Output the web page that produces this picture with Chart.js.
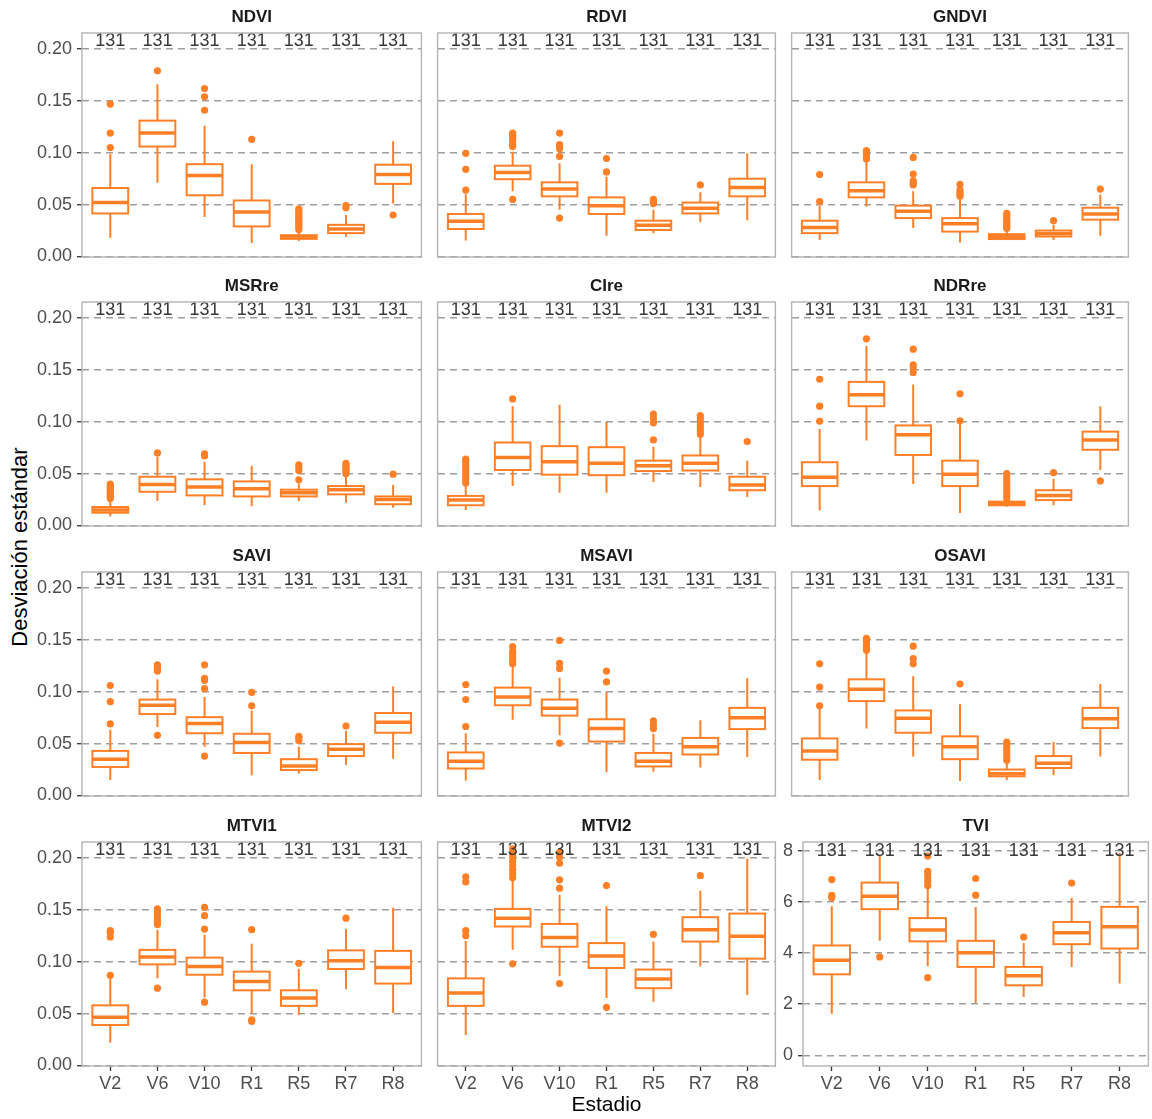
<!DOCTYPE html>
<html>
<head>
<meta charset="utf-8">
<title>Desviación estándar por estadio</title>
<script src="https://cdn.jsdelivr.net/npm/chart.js@4.4.0/dist/chart.umd.min.js"></script>
<style>
  html, body { margin: 0; padding: 0; background: #fff; overflow: hidden; }
  #page { position: relative; width: 1152px; height: 1119px; }
  #page canvas { position: absolute; }
  #ytitle {
    position: absolute; left: 20px; top: 547px;
    transform: translate(-50%, -50%) rotate(-90deg);
    font: 22px "Liberation Sans", Arial, sans-serif; color: #000; white-space: nowrap;
  }
</style>
</head>
<body>
<div id="page">
  <div id="ytitle">Desviación estándar</div>
</div>
<script>
// categories and tick labels
const stages = ['V2', 'V6', 'V10', 'R1', 'R5', 'R7', 'R8'];
const counts = [131, 131, 131, 131, 131, 131, 131];
const sdTicks = [0, 0.05, 0.10, 0.15, 0.20];
const tviTicks = [0, 2, 4, 6, 8];

// each box: [lower whisker, Q1, median, Q3, upper whisker]
const ndviBox = [[0.018, 0.0415, 0.052, 0.066, 0.099], [0.071, 0.106, 0.119, 0.131, 0.166], [0.038, 0.059, 0.078, 0.089, 0.126], [0.013, 0.029, 0.043, 0.054, 0.089], [0.015, 0.017, 0.0185, 0.0205, 0.025], [0.019, 0.0225, 0.0265, 0.0305, 0.040], [0.051, 0.070, 0.079, 0.0885, 0.111]];
const ndviOut = [[0.105, 0.119, 0.147], [0.179], [0.141, 0.154, 0.162], [0.113], [0.026, 0.028, 0.030, 0.032, 0.034, 0.036, 0.038, 0.040, 0.042, 0.044, 0.046], [0.047, 0.049], [0.040]];

const rdviBox = [[0.0155, 0.0265, 0.034, 0.041, 0.060], [0.063, 0.0745, 0.081, 0.0875, 0.101], [0.045, 0.058, 0.065, 0.0715, 0.090], [0.020, 0.041, 0.049, 0.057, 0.077], [0.0225, 0.0255, 0.030, 0.0345, 0.045], [0.033, 0.0415, 0.0465, 0.052, 0.062], [0.035, 0.058, 0.0665, 0.075, 0.0995]];
const rdviOut = [[0.064, 0.084, 0.0995], [0.055, 0.106, 0.108, 0.111, 0.113, 0.115, 0.117, 0.119], [0.037, 0.0965, 0.104, 0.106, 0.108, 0.119], [0.0815, 0.0945], [0.051, 0.052, 0.0535, 0.055], [0.069], []];

const gndviBox = [[0.016, 0.0225, 0.028, 0.0345, 0.049], [0.048, 0.057, 0.0635, 0.0715, 0.0915], [0.0275, 0.037, 0.0435, 0.049, 0.063], [0.0135, 0.024, 0.0315, 0.037, 0.0555], [0.016, 0.0168, 0.019, 0.0215, 0.0255], [0.016, 0.0193, 0.022, 0.025, 0.0305], [0.020, 0.0355, 0.041, 0.047, 0.0595]];
const gndviOut = [[0.053, 0.079], [0.094, 0.096, 0.098, 0.100, 0.102], [0.069, 0.071, 0.073, 0.0795, 0.0955], [0.058, 0.060, 0.062, 0.064, 0.0695], [0.027, 0.029, 0.031, 0.033, 0.035, 0.037, 0.040, 0.0415], [0.0345], [0.065]];

const msrreBox = [[0.0087, 0.0123, 0.015, 0.0178, 0.024], [0.0235, 0.0325, 0.0395, 0.047, 0.066], [0.0195, 0.029, 0.037, 0.0445, 0.0615], [0.0185, 0.028, 0.0355, 0.0425, 0.0575], [0.0235, 0.028, 0.0315, 0.0345, 0.0405], [0.022, 0.030, 0.0345, 0.038, 0.047], [0.017, 0.0205, 0.025, 0.028, 0.039]];
const msrreOut = [[0.026, 0.028, 0.030, 0.032, 0.034, 0.036, 0.038, 0.040], [0.070], [0.067, 0.069], [], [0.044, 0.053, 0.0565, 0.0585], [0.050, 0.052, 0.054, 0.056, 0.058, 0.060], [0.0495]];

const cireBox = [[0.015, 0.0195, 0.0245, 0.0285, 0.039], [0.038, 0.0535, 0.0655, 0.080, 0.115], [0.0315, 0.049, 0.0615, 0.0765, 0.1165], [0.0315, 0.0485, 0.060, 0.0755, 0.100], [0.042, 0.0525, 0.0575, 0.0625, 0.076], [0.037, 0.053, 0.060, 0.0675, 0.0855], [0.0275, 0.034, 0.039, 0.047, 0.0625]];
const cireOut = [[0.041, 0.044, 0.047, 0.050, 0.053, 0.056, 0.059, 0.062, 0.064], [0.122], [], [], [0.0825, 0.099, 0.1035, 0.1075], [0.088, 0.091, 0.094, 0.097, 0.100, 0.103, 0.106], [0.081]];

const ndrreBox = [[0.0145, 0.038, 0.0465, 0.061, 0.093], [0.082, 0.115, 0.126, 0.1385, 0.173], [0.040, 0.068, 0.0875, 0.0965, 0.136], [0.012, 0.038, 0.0495, 0.0625, 0.0985], [0.018, 0.0195, 0.021, 0.023, 0.0245], [0.0195, 0.0245, 0.029, 0.034, 0.045], [0.0535, 0.073, 0.0825, 0.0905, 0.115]];
const ndrreOut = [[0.1005, 0.115, 0.141], [0.180], [0.1475, 0.152, 0.155, 0.170], [0.101, 0.127], [0.026, 0.029, 0.032, 0.035, 0.038, 0.041, 0.044, 0.047, 0.050], [0.051], [0.043]];

const saviBox = [[0.015, 0.0275, 0.035, 0.043, 0.0635], [0.066, 0.0785, 0.087, 0.0925, 0.112], [0.047, 0.060, 0.0695, 0.0755, 0.095], [0.0195, 0.041, 0.051, 0.0595, 0.082], [0.021, 0.0245, 0.0285, 0.035, 0.047], [0.0295, 0.038, 0.0445, 0.0495, 0.0625], [0.0355, 0.0605, 0.0705, 0.0795, 0.105]];
const saviOut = [[0.069, 0.0905, 0.106], [0.058, 0.120, 0.122, 0.124, 0.126], [0.038, 0.103, 0.111, 0.113, 0.126], [0.0865, 0.0995], [0.053, 0.0555, 0.057], [0.067], []];

const msaviBox = [[0.0145, 0.026, 0.033, 0.0415, 0.060], [0.073, 0.087, 0.095, 0.104, 0.124], [0.058, 0.077, 0.084, 0.0925, 0.1135], [0.0225, 0.052, 0.0645, 0.0735, 0.100], [0.023, 0.028, 0.033, 0.041, 0.0595], [0.027, 0.0395, 0.047, 0.0555, 0.0725], [0.037, 0.064, 0.075, 0.0845, 0.113]];
const msaviOut = [[0.0665, 0.0925, 0.107], [0.127, 0.130, 0.133, 0.136, 0.139, 0.1435], [0.0505, 0.1225, 0.1275, 0.1495], [0.1095, 0.120], [0.0645, 0.068, 0.072], [], []];

const osaviBox = [[0.015, 0.0345, 0.043, 0.055, 0.084], [0.0645, 0.091, 0.1025, 0.112, 0.1385], [0.0375, 0.0605, 0.0745, 0.082, 0.115], [0.014, 0.035, 0.047, 0.057, 0.088], [0.015, 0.0185, 0.021, 0.025, 0.032], [0.0195, 0.0265, 0.031, 0.038, 0.0515], [0.0375, 0.065, 0.074, 0.0845, 0.1075]];
const osaviOut = [[0.0865, 0.1045, 0.127], [0.140, 0.143, 0.146, 0.149, 0.1515], [0.127, 0.132, 0.144], [0.1075], [0.034, 0.037, 0.040, 0.043, 0.046, 0.049, 0.0515], [], []];

const mtvi1Box = [[0.022, 0.039, 0.0465, 0.058, 0.086], [0.084, 0.0975, 0.1045, 0.1115, 0.131], [0.0655, 0.0875, 0.0955, 0.104, 0.126], [0.050, 0.0725, 0.081, 0.0905, 0.1175], [0.049, 0.0575, 0.065, 0.0725, 0.093], [0.0735, 0.093, 0.101, 0.111, 0.1315], [0.0505, 0.079, 0.0945, 0.1105, 0.152]];
const mtvi1Out = [[0.087, 0.124, 0.128, 0.130], [0.0745, 0.136, 0.139, 0.142, 0.145, 0.148, 0.151], [0.061, 0.1315, 0.1445, 0.1525], [0.0425, 0.044, 0.131], [0.0985], [0.142], []];

const mtvi2Box = [[0.0295, 0.0575, 0.070, 0.084, 0.120], [0.1115, 0.134, 0.142, 0.151, 0.179], [0.086, 0.1145, 0.1235, 0.1365, 0.1645], [0.065, 0.094, 0.1055, 0.118, 0.1535], [0.0615, 0.0745, 0.0835, 0.0925, 0.1195], [0.0955, 0.1195, 0.131, 0.143, 0.1685], [0.068, 0.103, 0.1245, 0.1465, 0.1995]];
const mtvi2Out = [[0.125, 0.130, 0.177, 0.182], [0.098, 0.181, 0.185, 0.189, 0.193, 0.197, 0.201, 0.205, 0.209], [0.079, 0.171, 0.179, 0.195, 0.201, 0.2055], [0.056, 0.1735], [0.1265], [0.183], []];

const tviBox = [[1.63, 3.17, 3.72, 4.30, 5.83], [4.48, 5.72, 6.23, 6.76, 7.80], [3.49, 4.46, 4.90, 5.37, 6.53], [2.05, 3.46, 4.01, 4.48, 5.81], [2.28, 2.74, 3.11, 3.46, 4.40], [3.46, 4.35, 4.80, 5.22, 6.17], [2.81, 4.18, 5.03, 5.81, 7.92]];
const tviOut = [[6.17, 6.26, 6.88], [3.85], [3.04, 6.65, 6.8, 6.95, 7.1, 7.2, 7.8], [6.27, 6.92], [4.63], [6.74], []];

const ORANGE = '#ff7f27';
Chart.defaults.font.family = "'Liberation Sans', Arial, sans-serif";

// plot area edges in the page
const colLeft = [82, 434, 788];
const colRight = [423, 777, 1130];
const rowTop = [33, 302, 572, 842];
const rowBottom = [257, 526, 796, 1066];

const panels = [
    {name: 'NDVI', box: ndviBox, out: ndviOut, row: 0, col: 0},
    {name: 'RDVI', box: rdviBox, out: rdviOut, row: 0, col: 1},
    {name: 'GNDVI', box: gndviBox, out: gndviOut, row: 0, col: 2},
    {name: 'MSRre', box: msrreBox, out: msrreOut, row: 1, col: 0},
    {name: 'CIre', box: cireBox, out: cireOut, row: 1, col: 1},
    {name: 'NDRre', box: ndrreBox, out: ndrreOut, row: 1, col: 2},
    {name: 'SAVI', box: saviBox, out: saviOut, row: 2, col: 0},
    {name: 'MSAVI', box: msaviBox, out: msaviOut, row: 2, col: 1},
    {name: 'OSAVI', box: osaviBox, out: osaviOut, row: 2, col: 2},
    {name: 'MTVI1', box: mtvi1Box, out: mtvi1Out, row: 3, col: 0},
    {name: 'MTVI2', box: mtvi2Box, out: mtvi2Out, row: 3, col: 1, xTitle: 'Estadio'},
    {name: 'TVI', box: tviBox, out: tviOut, row: 3, col: 2, tvi: true}
];

/**
 * Draws boxes, whiskers and medians from the scales, then the n labels and the panel frame
 **/
function boxPlugin(p, nY) {
    return {
        id: 'boxes',
        beforeDatasetsDraw(chart) {
            const ctx = chart.ctx;
            const x = chart.scales.x, y = chart.scales.y;
            ctx.save();
            ctx.strokeStyle = ORANGE;
            ctx.fillStyle = '#fff';
            p.box.forEach(function (b, i) {
                const lo = y.getPixelForValue(b[0]), q1 = y.getPixelForValue(b[1]);
                const med = y.getPixelForValue(b[2]), q3 = y.getPixelForValue(b[3]);
                const hi = y.getPixelForValue(b[4]);
                const xc = x.getPixelForValue(i);
                const x0 = x.getPixelForValue(i - 0.38), x1 = x.getPixelForValue(i + 0.38);
                ctx.lineWidth = 2;
                ctx.beginPath();
                ctx.moveTo(xc, hi); ctx.lineTo(xc, q3);
                ctx.moveTo(xc, q1); ctx.lineTo(xc, lo);
                ctx.stroke();
                ctx.fillRect(x0, q3, x1 - x0, q1 - q3);
                ctx.strokeRect(x0, q3, x1 - x0, q1 - q3);
                ctx.lineWidth = 3.5;
                ctx.beginPath();
                ctx.moveTo(x0, med); ctx.lineTo(x1, med);
                ctx.stroke();
            });
            ctx.restore();
        },
        afterDatasetsDraw(chart) {
            const ctx = chart.ctx;
            const x = chart.scales.x, y = chart.scales.y;
            const a = chart.chartArea;
            ctx.save();
            ctx.fillStyle = '#383838';
            ctx.font = "18px 'Liberation Sans', Arial, sans-serif";
            ctx.textAlign = 'center';
            ctx.textBaseline = 'middle';
            counts.forEach(function (n, i) {
                ctx.fillText(String(n), x.getPixelForValue(i), y.getPixelForValue(nY));
            });
            ctx.strokeStyle = '#b3b3b3';
            ctx.lineWidth = 1.4;
            ctx.strokeRect(a.left, a.top, a.right - a.left, a.bottom - a.top);
            ctx.restore();
        }
    };
}

function makeChart(p) {
    const l = p.tvi ? 803 : colLeft[p.col];
    const r = p.tvi ? 1150 : colRight[p.col];
    const t = rowTop[p.row], b = rowBottom[p.row];
    const showY = p.col === 0 || !!p.tvi;
    const showX = p.row === 3;
    const yAxisW = showY ? (p.tvi ? 40 : l) : 0;
    const xAxisH = showX ? (p.xTitle ? 52 : 30) : 0;
    const padBottom = showX ? 0 : 16;
    const padRight = 2;
    const titleH = 26;
    const left = l - yAxisW, top = t - titleH;
    const w = r - left + padRight, h = b - top + xAxisH + padBottom;

    const canvas = document.createElement('canvas');
    canvas.width = w; canvas.height = h;
    canvas.style.left = left + 'px'; canvas.style.top = top + 'px';
    canvas.style.width = w + 'px'; canvas.style.height = h + 'px';
    document.getElementById('page').appendChild(canvas);

    const yTicks = p.tvi ? tviTicks : sdTicks;
    const yMin = p.tvi ? -0.42 : -0.0005;
    const yMax = p.tvi ? 8.35 : 0.2155;
    const nY = p.tvi ? 8 : 0.2075;

    const pts = [];
    p.out.forEach(function (arr, i) {
        arr.forEach(function (v) { pts.push({x: i, y: v}); });
    });

    return new Chart(canvas, {
        type: 'scatter',
        data: {
            datasets: [{
                data: pts,
                pointRadius: 3.6,
                pointHoverRadius: 3.6,
                backgroundColor: ORANGE,
                borderWidth: 0
            }]
        },
        options: {
            responsive: false,
            animation: false,
            devicePixelRatio: 1,
            events: [],
            layout: {padding: {left: 0, top: 0, right: padRight, bottom: padBottom}},
            plugins: {
                legend: {display: false},
                tooltip: {enabled: false},
                title: {
                    display: true,
                    text: p.name,
                    position: 'top',
                    fullSize: false,
                    color: '#1a1a1a',
                    font: {size: 17, weight: 'bold', lineHeight: '20px'},
                    padding: {top: 0, bottom: 6}
                }
            },
            scales: {
                x: {
                    type: 'linear',
                    display: showX,
                    min: -0.6,
                    max: 6.6,
                    afterBuildTicks: function (ax) { ax.ticks = stages.map(function (s, i) { return {value: i}; }); },
                    afterFit: function (ax) { ax.height = xAxisH; },
                    ticks: {
                        autoSkip: false,
                        maxRotation: 0,
                        padding: 2,
                        color: '#4d4d4d',
                        font: {size: 18},
                        callback: function (v) { return stages[v]; }
                    },
                    grid: {drawOnChartArea: false, drawTicks: true, tickLength: 5, tickColor: '#333', tickWidth: 1.3},
                    border: {display: false},
                    title: {display: !!p.xTitle, text: p.xTitle || '', color: '#000', font: {size: 21}, padding: 0}
                },
                y: {
                    type: 'linear',
                    display: true,
                    min: yMin,
                    max: yMax,
                    afterBuildTicks: function (ax) { ax.ticks = yTicks.map(function (v) { return {value: v}; }); },
                    afterFit: function (ax) { ax.width = yAxisW; },
                    ticks: {
                        display: showY,
                        padding: 5,
                        color: '#4d4d4d',
                        font: {size: 18},
                        callback: function (v) { return p.tvi ? String(v) : v.toFixed(2); }
                    },
                    grid: {color: '#9e9e9e', lineWidth: 1.4, drawTicks: showY, tickLength: 5, tickColor: '#333', tickWidth: 1.3},
                    border: {display: false, dash: [7, 5]}
                }
            }
        },
        plugins: [boxPlugin(p, nY)]
    });
}

panels.forEach(makeChart);
</script>
</body>
</html>
